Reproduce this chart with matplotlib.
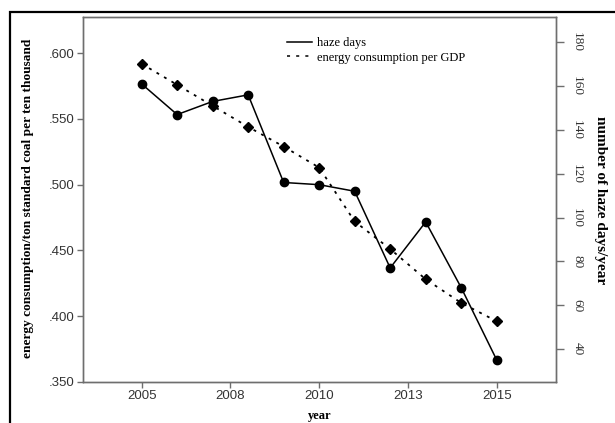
import matplotlib
matplotlib.use("Agg")
import matplotlib.pyplot as plt
from matplotlib.lines import Line2D
from matplotlib.patches import Rectangle
from matplotlib.ticker import FuncFormatter

years = [2005, 2006, 2007, 2008, 2009, 2010, 2011, 2012, 2013, 2014, 2015]
haze_days = [161, 147, 153, 156, 116, 115, 112, 77, 98, 68, 35]
energy = [0.592, 0.576, 0.560, 0.544, 0.529, 0.513, 0.472, 0.451, 0.428, 0.410, 0.396]

xticks = [2005, 2007.5, 2010, 2012.5, 2015]
xtick_labels = ["2005", "2008", "2010", "2013", "2015"]
left_ticks = [0.35, 0.40, 0.45, 0.50, 0.55, 0.60]
right_ticks = [40, 60, 80, 100, 120, 140, 160, 180]

W, H = 615, 423
fig = plt.figure(figsize=(W / 100, H / 100), dpi=100)
fig.patch.set_facecolor("white")

# outer frame
fig.patches.append(Rectangle((10 / W, -0.1), 1.2, (H - 12) / H + 0.1,
                             transform=fig.transFigure, fill=False,
                             edgecolor="black", linewidth=1.6, zorder=0))

l, r, t, b = 82.7, 556, 17.3, 381.7
ax = fig.add_axes([l / W, 1 - b / H, (r - l) / W, (b - t) / H])
ax2 = ax.twinx()

spine_col = "#6e6e6e"
for a in (ax, ax2):
    for s in a.spines.values():
        s.set_color(spine_col)
        s.set_linewidth(1.0)

ax.plot(years, energy, color="black", linestyle=(0, (1.6, 3.2)), linewidth=1.3,
        marker="D", markersize=4.8, zorder=3)
ax2.plot(years, haze_days, color="black", linestyle="-", linewidth=1.1,
         marker="o", markersize=6, zorder=3)

ax.set_xlim(2003.34, 2016.67)
ax.set_ylim(0.350, 0.6274)
ax2.set_ylim(25.07, 191.4)

ax.set_xticks(xticks)
ax.set_xticklabels(xtick_labels, fontfamily="Liberation Sans", fontsize=9.5, color="#333333")
ax.set_yticks(left_ticks)
ax.yaxis.set_major_formatter(FuncFormatter(lambda v, p: ("%.3f" % v).lstrip("0")))
for lab in ax.get_yticklabels():
    lab.set_fontfamily("Liberation Sans")
    lab.set_fontsize(9.5)
    lab.set_color("#333333")
ax.tick_params(axis="both", direction="out", length=4, width=1.0, color=spine_col, pad=2)

ax2.set_yticks(right_ticks)
ax2.set_yticklabels([str(v) for v in right_ticks], fontfamily="Liberation Serif",
                    fontsize=9.5, rotation=-90, va="center", color="#333333")
ax2.tick_params(axis="y", direction="out", length=6, width=1.0, color=spine_col, pad=5)

ax.set_xlabel("year", fontfamily="Liberation Serif", fontweight="bold", fontsize=9, labelpad=6)
fig.text(28 / W, 1 - 198 / H, "energy consumption/ton standard coal per ten thousand",
         rotation=90, ha="center", va="center", fontfamily="Liberation Serif",
         fontweight="bold", fontsize=9.6)
fig.text(601 / W, 1 - 200 / H, "number of haze days/year",
         rotation=-90, ha="center", va="center", fontfamily="Liberation Serif",
         fontweight="bold", fontsize=11)

handles = [Line2D([], [], color="black", linewidth=1.1, linestyle="-"),
           Line2D([], [], color="black", linewidth=1.1, linestyle=(0, (2, 4)))]
leg = ax.legend(handles, ["haze days", "energy consumption per GDP"],
                loc="upper left", bbox_to_anchor=(287 / W, 1 - 37 / H),
                bbox_transform=fig.transFigure, frameon=False,
                prop={"family": "Liberation Serif", "size": 9},
                handlelength=2.0, handletextpad=0.4, borderpad=0,
                borderaxespad=0, labelspacing=0.2)

fig.savefig("out.png", dpi=100)
